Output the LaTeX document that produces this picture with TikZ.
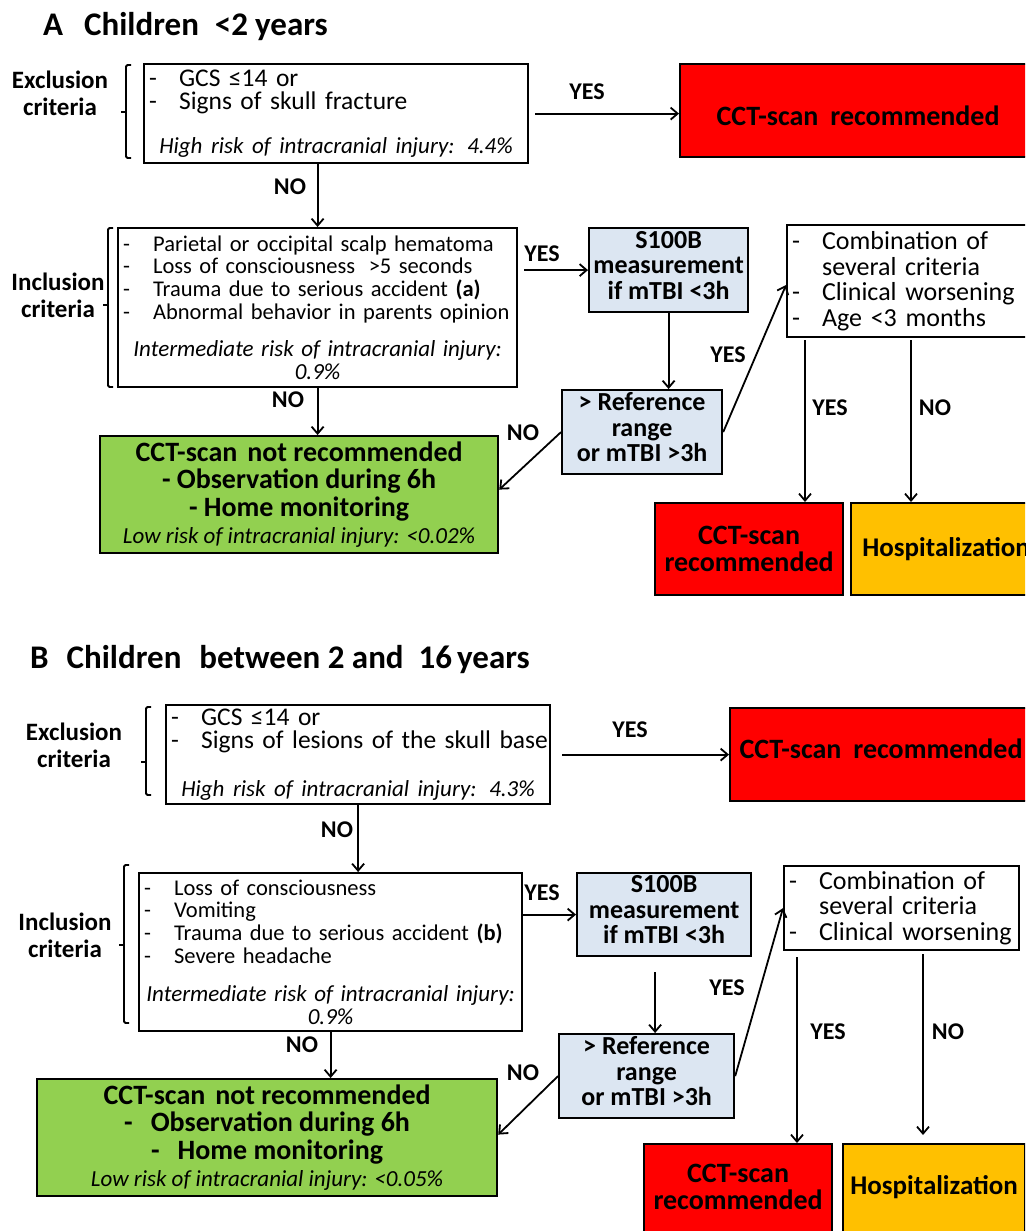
\documentclass[tikz,border=0pt]{standalone}
\usepackage{fontspec}
\setmainfont{Carlito}
\usetikzlibrary{arrows.meta, positioning}

\definecolor{scanred}{HTML}{FF0000}
\definecolor{obsgreen}{HTML}{92D050}
\definecolor{hosporange}{HTML}{FFC000}
\definecolor{sblue}{HTML}{DCE6F2}

\newcommand{\itm}[2][-]{\mbox{\makebox[30pt][l]{#1}#2}}
\newcommand{\riskline}[2]{\makebox[#1pt]{\fontsize{23}{23}\selectfont\itshape #2}}
\newcommand{\critbrak}[4]{%
  \draw[brak] (#1+5,#2) -- (#1,#2) -- (#1,#3) -- (#1+5,#3);
  \draw[brak] (#1,#4) -- (#1-5,#4);}

\tikzset{size/.style 2 args = {minimum width=#1pt, minimum height=#2pt},
         every box/.style = {draw, line width=2.2pt, anchor=north west, inner sep=0pt},
         exclbox/.style = {every box, fill=white, align=left,
                           font=\fontsize{25.5}{23.5}\selectfont},
         listbox/.style = {every box, fill=white, align=left,
                           font=\fontsize{22.5}{22.7}\selectfont},
         critbox/.style = {every box, fill=white, align=left,
                           font=\fontsize{26}{25.5}\selectfont},
         bluebox/.style = {every box, fill=sblue, align=center, text depth=10pt,
                           font=\bfseries\fontsize{26}{25.5}\selectfont},
         redbox/.style = {every box, fill=scanred, align=center,
                          font=\bfseries\fontsize{28}{27}\selectfont},
         orangebox/.style = {every box, fill=hosporange, align=center,
                             font=\bfseries\fontsize{27}{27}\selectfont},
         greenbox/.style = {every box, fill=obsgreen, align=center,
                            font=\bfseries\fontsize{28}{27.5}\selectfont},
         lbl/.style = {inner sep=0pt, font=\bfseries\fontsize{24}{24}\selectfont},
         side/.style = {inner sep=0pt, align=center,
                        font=\bfseries\fontsize{25}{27}\selectfont},
         title/.style = {inner sep=0pt, anchor=base west,
                         font=\bfseries\fontsize{33}{33}\selectfont},
         arr/.style = {line width=1.8pt, -{Straight Barb[length=7pt, width=12pt]}},
         brak/.style = {line width=1.8pt, rounded corners=1.5pt}}

\begin{document}
\begin{tikzpicture}[x=1pt, y=-1pt]
        \useasboundingbox (0,0) rectangle (1025,1231);
        \clip (0,0) rectangle (1025,1231);

        % A: children under 2 years
        \node[title] (titA) at (43,36) {A\hspace{21pt}Children\hspace{16pt}<2\hspace{7pt}years};
        \node[side]  (excA) at (60,93)  {Exclusion\\criteria};
        \node[side]  (incAl) at (58,295) {Inclusion\\criteria};

        \node[exclbox, size={384}{99}, text width=374pt]   (exA)  at (143,63)  {\itm{GCS ≤14 or}\\\itm{Signs of skull fracture}\par\vspace{20pt}\riskline{374}{High risk of intracranial injury: 4.4\%}};
        \node[redbox, size={356}{93}, text height=30pt]    (redA1) at (679,63) {CCT-scan\hspace{12pt}recommended};
        \node[listbox, size={399}{159}, text width=389pt]  (incA) at (117,227) {\itm{Parietal or occipital scalp hematoma}\\\itm{Loss of consciousness\hspace{6pt} >5 seconds}\\\itm{Trauma due to serious accident \textbf{(a)}}\\\itm{Abnormal behavior in parents opinion}\par\vspace{15pt}\riskline{389}{Intermediate risk of intracranial injury:}\\\riskline{389}{0.9\%}\par\vspace{10pt}};
        \node[bluebox, size={159}{84}]                     (s100A) at (588,227) {S100B\\measurement\\if mTBI <3h};
        \node[bluebox, size={160}{84}]                     (refA) at (561,389) {> Reference\\range\\or mTBI >3h};
        \node[critbox, size={260}{112}, text width=250pt]  (critA) at (786,224) {\itm{Combination of}\\\itm[]{several criteria}\\\itm{Clinical worsening}\\\itm{Age <3 months}};
        \node[redbox, size={188}{92}]                      (redA2) at (654,502) {CCT-scan\\recommended};
        \node[orangebox, size={190}{92}]                   (orA)  at (850,502) {Hospitalization};
        \node[greenbox, size={398}{117}]                   (grA)  at (99,435)  {CCT-scan\hspace{10pt}not recommended\\- Observation during 6h\\- Home monitoring\\{\mdseries\itshape\fontsize{23}{23}\selectfont Low risk of intracranial injury: <0.02\%}};

        \critbrak{126}{65}{158}{112}
        \critbrak{108}{228}{387}{305}

        \draw[arr, shorten <=6pt] (exA.east) -- (exA.east -| redA1.west);
        \draw[arr] (exA.south -| incA.north) -- (incA.north);
        \draw[arr, shorten <=6pt] (incA.east |- s100A.west) -- (s100A.west);
        \draw[arr] (s100A.south) -- (s100A.south |- refA.north);
        \draw[arr] (refA.east) -- ([yshift=-4pt]critA.west);
        \coordinate (cAy) at ([xshift=19pt]critA.south west);
        \coordinate (cAn) at ([xshift=125pt]critA.south west);
        \draw[arr, shorten <=2pt] (cAy) -- (cAy |- redA2.north);
        \draw[arr, shorten <=2pt] (cAn) -- (cAn |- orA.north);
        \draw[arr] (refA.west) -- ([yshift=5pt]grA.east);
        \draw[arr] (incA.south) -- (incA.south |- grA.north);

        \node[lbl] (yA1) at (587,92)  {YES};
        \node[lbl] (nA1) at (290,187) {NO};
        \node[lbl] (yA2) at (542,254) {YES};
        \node[lbl] (yA3) at (728,355) {YES};
        \node[lbl] (yA4) at (830,408) {YES};
        \node[lbl] (nA4) at (935,408) {NO};
        \node[lbl] (nA2) at (523,433) {NO};
        \node[lbl] (nA3) at (288,400) {NO};

        % B: children between 2 and 16 years
        \node[title] (titB) at (30,668) {B\hspace{18pt}Children\hspace{18pt}between 2 and\hspace{15pt}16\hspace{5pt}years};
        \node[side]  (excB) at (74,745) {Exclusion\\criteria};
        \node[side]  (incBl) at (65,935) {Inclusion\\criteria};

        \node[exclbox, size={384}{99}, text width=374pt]   (exB)  at (165,704) {\itm{GCS ≤14 or}\\\itm{Signs of lesions of the skull base}\par\vspace{24pt}\riskline{374}{High risk of intracranial injury: 4.3\%}};
        \node[redbox, size={302}{93}, text depth=11pt]     (redB1) at (729,707) {CCT-scan\hspace{12pt}recommended};
        \node[listbox, size={383}{158}, text width=373pt]  (incB) at (138,872) {\itm{Loss of consciousness}\\\itm{Vomiting}\\\itm{Trauma due to serious accident \textbf{(b)}}\\\itm{Severe headache}\par\vspace{16pt}\riskline{373}{Intermediate risk of intracranial injury:}\\\riskline{373}{0.9\%}\par\vspace{10pt}};
        \node[bluebox, size={174}{83}]                     (s100B) at (576,872) {S100B\\measurement\\if mTBI <3h};
        \node[bluebox, size={175}{84}]                     (refB) at (558,1033) {> Reference\\range\\or mTBI >3h};
        \node[critbox, size={235}{84}, text width=225pt]   (critB) at (783,865) {\itm{Combination of}\\\itm[]{several criteria}\\\itm{Clinical worsening}};
        \node[redbox, size={188}{110}, text depth=24pt]    (redB2) at (643,1143) {CCT-scan\\recommended};
        \node[orangebox, size={182}{110}, text depth=29pt] (orB)  at (842,1143) {Hospitalization};
        \node[greenbox, size={460}{117}]                   (grB)  at (36,1078)  {CCT-scan\hspace{10pt}not recommended\\-\hspace{18pt}Observation during 6h\\-\hspace{18pt}Home monitoring\\{\mdseries\itshape\fontsize{23}{23}\selectfont Low risk of intracranial injury: <0.05\%}};

        \critbrak{146}{707}{795}{762}
        \critbrak{124}{865}{1023}{945}

        \draw[arr, shorten <=11pt] (exB.east) -- (exB.east -| redB1.west);
        \draw[arr] (exB.south) -- (exB.south |- incB.north);
        \draw[arr] (incB.east |- s100B.west) -- (s100B.west);
        \coordinate (sBd) at ([xshift=-9pt, yshift=-15pt]s100B.south);
        \draw[arr] (sBd) -- (sBd |- refB.north);
        \draw[arr] (refB.east) -- (critB.west);
        \coordinate (cBy) at ([xshift=14pt, yshift=-6pt]critB.south west);
        \coordinate (cBn) at ([xshift=140pt, yshift=-3pt]critB.south west);
        \draw[arr] (cBy) -- (cBy |- redB2.north);
        \draw[arr, shorten >=8pt] (cBn) -- (cBn |- orB.north);
        \draw[arr] (refB.west) -- ([yshift=3pt]grB.east);
        \draw[arr] (incB.south) -- (incB.south |- grB.north);

        \node[lbl] (yB1) at (630,730)  {YES};
        \node[lbl] (nB1) at (337,830)  {NO};
        \node[lbl] (yB2) at (542,893)  {YES};
        \node[lbl] (yB3) at (727,988)  {YES};
        \node[lbl] (yB4) at (828,1032) {YES};
        \node[lbl] (nB4) at (948,1032) {NO};
        \node[lbl] (nB2) at (523,1073) {NO};
        \node[lbl] (nB3) at (302,1045) {NO};
\end{tikzpicture}
\end{document}
